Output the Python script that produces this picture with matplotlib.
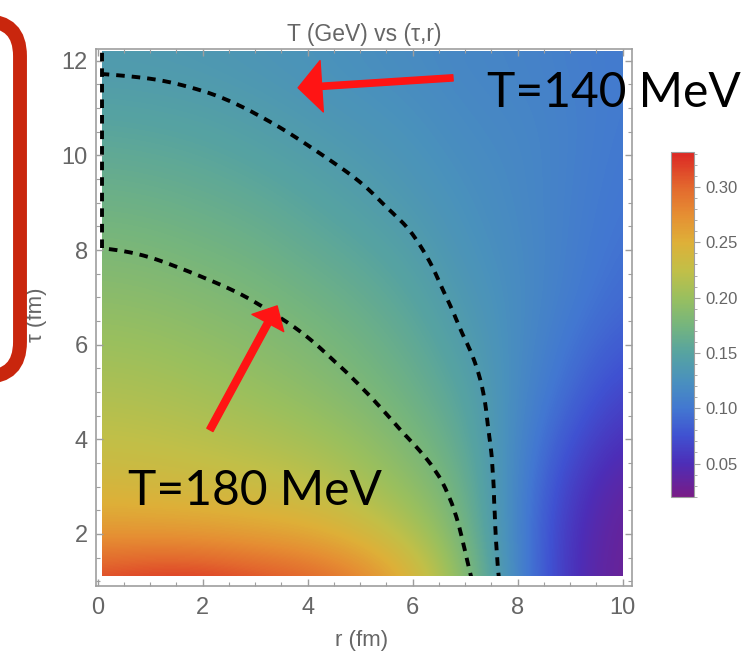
import numpy as np
import matplotlib
matplotlib.use("Agg")
import matplotlib.pyplot as plt
import matplotlib.tri as mtri
from matplotlib.colors import LinearSegmentedColormap
from matplotlib.patches import Rectangle, FancyBboxPatch
from matplotlib.ticker import MultipleLocator

plt.rcParams["font.family"] = ["Liberation Sans", "DejaVu Sans"]

# Data: T (GeV) on a 1 fm grid (one list per tau row)
r_fm = [0, 1, 2, 3, 4, 5, 6, 7, 8, 9, 10]
tau_fm = [1, 2, 3, 4, 5, 6, 7, 8, 9, 10, 11, 12]

T_tau1 = [0.320, 0.330, 0.330, 0.320, 0.310, 0.290, 0.250, 0.190, 0.112, 0.050, 0.028]
T_tau2 = [0.268, 0.267, 0.265, 0.260, 0.255, 0.240, 0.215, 0.176, 0.110, 0.052, 0.030]
T_tau3 = [0.240, 0.238, 0.235, 0.231, 0.225, 0.212, 0.193, 0.167, 0.112, 0.060, 0.035]
T_tau4 = [0.225, 0.223, 0.219, 0.214, 0.207, 0.196, 0.179, 0.158, 0.115, 0.075, 0.050]
T_tau5 = [0.213, 0.211, 0.206, 0.200, 0.192, 0.1815, 0.168, 0.150, 0.118, 0.090, 0.065]
T_tau6 = [0.202, 0.200, 0.195, 0.189, 0.1815, 0.172, 0.160, 0.141, 0.120, 0.098, 0.080]
T_tau7 = [0.191, 0.189, 0.1845, 0.179, 0.1715, 0.163, 0.151, 0.134, 0.120, 0.105, 0.090]
T_tau8 = [0.1805, 0.1784, 0.174, 0.169, 0.161, 0.153, 0.143, 0.128, 0.119, 0.107, 0.095]
T_tau9 = [0.1697, 0.168, 0.164, 0.159, 0.1515, 0.1435, 0.1345, 0.1245, 0.117, 0.108, 0.098]
T_tau10 = [0.159, 0.157, 0.154, 0.1485, 0.142, 0.1355, 0.1285, 0.1205, 0.116, 0.109, 0.100]
T_tau11 = [0.148, 0.1465, 0.1436, 0.139, 0.1335, 0.128, 0.1235, 0.117, 0.114, 0.109, 0.102]
T_tau12 = [0.137, 0.136, 0.134, 0.131, 0.127, 0.123, 0.119, 0.114, 0.112, 0.107, 0.102]

contour_levels = [0.14, 0.18]
# dashed boundary line drawn by the original plot at the left edge
edge_r = [0.08, 0.08]
edge_tau = [8.05, 12.2]

# plotted domain of the density image
r_min, r_max = 0.08, 10.0
tau_min, tau_max = 1.11, 12.21

cbar_ticks = [0.05, 0.10, 0.15, 0.20, 0.25, 0.30]

# Mathematica-like "Rainbow" colours
cmap_pos = [0, 0.096, 0.176, 0.256, 0.337, 0.417, 0.497, 0.577, 0.657, 0.737, 0.817, 0.897, 1]
cmap_rgb = [(0.47, 0.11, 0.53), (0.30, 0.18, 0.72), (0.25, 0.32, 0.82), (0.26, 0.47, 0.82),
            (0.29, 0.57, 0.74), (0.34, 0.64, 0.63), (0.46, 0.71, 0.49), (0.60, 0.75, 0.37),
            (0.76, 0.75, 0.28), (0.87, 0.69, 0.22), (0.90, 0.56, 0.20), (0.89, 0.41, 0.18),
            (0.86, 0.15, 0.14)]
rainbow = LinearSegmentedColormap.from_list("rainbow_mma", list(zip(cmap_pos, cmap_rgb)))

T = np.array([T_tau1, T_tau2, T_tau3, T_tau4, T_tau5, T_tau6,
              T_tau7, T_tau8, T_tau9, T_tau10, T_tau11, T_tau12])

GRAY_TXT = (0.40, 0.40, 0.40)
GRAY_AX = (0.62, 0.62, 0.62)
DASH = (0, (2.2, 1.8))

fig = plt.figure(figsize=(7.49, 6.62), dpi=100)
ax = fig.add_axes([96 / 749, 1 - 586 / 662, 536 / 749, 537 / 662])

im = ax.imshow(T, origin="lower", extent=(-0.5, 10.5, 0.5, 12.5), cmap=rainbow,
               vmin=0.02, vmax=0.332, interpolation="bicubic", aspect="auto")
clip = Rectangle((r_min, tau_min), r_max - r_min, tau_max - tau_min, transform=ax.transData)
im.set_clip_path(clip)

# smooth contour lines: let matplotlib refine the grid with its cubic interpolator
R, TAU = np.meshgrid(r_fm, tau_fm)
triang = mtri.Triangulation(R.ravel(), TAU.ravel())
tri_fine, T_fine = mtri.UniformTriRefiner(triang).refine_field(T.ravel(), subdiv=3)
cs = ax.tricontour(tri_fine, T_fine, levels=contour_levels, colors="black",
                   linewidths=2.8, linestyles=[DASH])
cs.set_clip_path(clip)
ax.plot(edge_r, edge_tau, color="black", lw=2.8, ls=DASH)

ax.set_xlim(-0.03, 10.18)
ax.set_ylim(0.90, 12.25)
ax.xaxis.set_major_locator(MultipleLocator(2))
ax.yaxis.set_major_locator(MultipleLocator(2))
ax.xaxis.set_minor_locator(MultipleLocator(0.5))
ax.yaxis.set_minor_locator(MultipleLocator(0.5))
ax.tick_params(which="both", direction="in", top=True, right=True, colors=GRAY_AX,
               labelcolor=GRAY_TXT, labelsize=17)
ax.tick_params(which="major", length=5, width=1)
ax.tick_params(which="minor", length=3, width=0.8)
ax.tick_params(axis="x", pad=8)
ax.tick_params(axis="y", pad=6)
for s in ax.spines.values():
    s.set_color(GRAY_AX)
    s.set_linewidth(1.2)

ax.set_title("T (GeV) vs (τ,r)", fontsize=16.5, color=GRAY_TXT, pad=6)
ax.set_xlabel("r (fm)", fontsize=16, color=GRAY_TXT)
ax.set_ylabel("τ (fm)", fontsize=16, color=GRAY_TXT)
ax.xaxis.set_label_coords(0.496, -0.082)
ax.yaxis.set_label_coords(-0.092, 0.505)

# colour bar
cax = fig.add_axes([670.7 / 749, 1 - 496.7 / 662, 23.3 / 749, 345 / 662])
cb = fig.colorbar(im, cax=cax, ticks=cbar_ticks, format="%.2f")
cb.outline.set_edgecolor(GRAY_AX)
cb.outline.set_linewidth(0.8)
cax.yaxis.set_minor_locator(MultipleLocator(0.01))
cax.tick_params(which="both", colors=GRAY_AX, labelcolor=GRAY_TXT, labelsize=12)
cax.tick_params(which="major", length=4, width=0.8, pad=4)
cax.tick_params(which="minor", length=2, width=0.6)

# annotations
arrow_red = (1.0, 0.08, 0.08)
ax.annotate("", xy=(3.82, 11.43), xytext=(6.77, 11.64),
            arrowprops=dict(arrowstyle="simple,head_length=17,head_width=37,tail_width=4.5",
                            mutation_scale=1, color=arrow_red, shrinkA=0, shrinkB=0))
ax.annotate("", xy=(3.42, 6.82), xytext=(2.14, 4.20),
            arrowprops=dict(arrowstyle="simple,head_length=14,head_width=26,tail_width=5",
                            mutation_scale=1, color=arrow_red, shrinkA=0, shrinkB=0))

fig.text(487 / 749, 1 - 107 / 662, "T=140 MeV", fontsize=34.5, family="Lato",
         color="black", ha="left", va="baseline")
fig.text(128 / 749, 1 - 505 / 662, "T=180 MeV", fontsize=34.5, family="Lato",
         color="black", ha="left", va="baseline")

# red rounded frame at the left edge
box = FancyBboxPatch((-0.8, 2.85), 1.0, 3.56, boxstyle="round,pad=0,rounding_size=0.35",
                     transform=fig.dpi_scale_trans, facecolor="none",
                     edgecolor=(0.79, 0.15, 0.05), linewidth=10, clip_on=False)
fig.add_artist(box)

fig.savefig("out.png", dpi=100)
